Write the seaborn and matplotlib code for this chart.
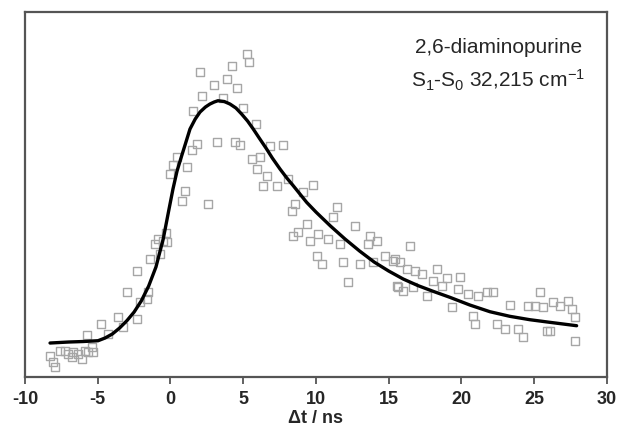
import numpy as np
import pandas as pd
import matplotlib
matplotlib.use("Agg")
import matplotlib.pyplot as plt
import seaborn as sns

# measured points (delay in ns, signal in arbitrary units)
t_data = [-8.28, -8.08, -7.94, -7.59, -7.25, -7.04, -6.77, -6.70, -6.36, -6.08,
          -5.88, -5.67, -5.40, -5.33, -5.74, -4.78, -4.30, -3.61, -3.26, -2.99,
          -2.30, -2.10, -2.30, -1.62, -1.55, -1.41, -1.07, -0.86, -0.72, -0.52,
          -0.31, -0.24, -0.03, 0.17, 0.45, 1.13, 1.00, 0.79,
          1.55, 1.82, 1.48, 2.03, 2.16, 2.58, 2.99, 3.20, 3.61, 3.88,
          4.23, 4.43, 4.57, 4.78, 4.98, 5.26, 5.40, 5.88, 5.60, 6.15,
          5.95, 6.84, 6.63, 6.36, 7.32, 7.73, 8.08, 9.79, 9.11, 8.56,
          8.35, 11.44, 11.17, 9.38, 8.76, 8.42, 10.14, 10.82, 9.59, 12.68,
          13.71, 14.19, 13.57, 11.65, 10.07, 10.41, 11.86, 13.02, 14.74, 15.29,
          13.92, 12.20, 15.57,
          16.46, 15.43, 15.77, 16.25, 16.80, 17.29, 18.32, 19.00, 19.90, 18.04,
          18.66, 15.64, 15.98, 16.67, 17.63, 19.76, 20.45, 21.13, 21.75, 22.17,
          19.35, 20.79, 20.93, 22.44, 22.99, 24.23, 23.33, 24.57, 25.05, 25.60,
          25.40, 26.29, 26.77, 27.32, 27.60, 27.80, 23.88, 25.88, 26.08, 27.80]
s_data = [21, 15, 10, 26, 26, 23, 20, 25, 23, 18,
          26, 25, 30, 25, 42, 53, 43, 60, 50, 85,
          58, 75, 106, 78, 85, 118, 133, 138, 123, 136,
          144, 135, 203, 212, 220, 210, 186, 176,
          266, 233, 227, 305, 281, 173, 292, 235, 279, 298,
          311, 235, 289, 232, 269, 323, 315, 253, 218, 220,
          208, 231, 201, 191, 191, 232, 198, 192, 185, 173,
          166, 170, 160, 153, 145, 141, 143, 138, 136, 151,
          141, 136, 133, 133, 121, 113, 115, 113, 121, 116,
          115, 95, 91,
          131, 118, 115, 108, 106, 103, 108, 99, 100, 96,
          91, 90, 86, 90, 81, 88, 83, 81, 85, 85,
          70, 61, 53, 53, 48, 40, 72, 71, 71, 70,
          85, 75, 71, 76, 68, 60, 48, 46, 46, 36]

# fitted curve
t_fit = [-8.28, -7.0, -6.0, -4.98, -4.5, -4.0, -3.5, -3.0, -2.5, -2.0,
         -1.5, -1.0, -0.5, -0.1, 0.17, 0.45, 0.77, 1.0, 1.34, 1.7,
         2.03, 2.4, 2.71, 3.0, 3.26, 3.7, 4.09, 4.5, 4.89, 5.3,
         5.69, 6.1, 6.61, 7.0, 7.53, 8.0, 8.44, 9.36, 10.0, 11.0,
         12.0, 13.0, 14.0, 15.0, 16.0, 17.0, 18.0, 19.21, 20.58, 21.96,
         23.33, 24.71, 26.08, 27.92]
s_fit = [34, 35, 35.5, 36.3, 39, 43, 49, 56.3, 65, 76.3,
         91, 110, 138, 168, 188, 206, 221.3, 232, 248, 258,
         265, 270, 273, 275, 276.3, 275.5, 273, 269, 263, 256,
         248, 239, 228, 219, 208, 199, 191.3, 174.7, 165, 151,
         138, 126, 115, 106, 98, 91.5, 86, 79.7, 72, 65.3,
         60.7, 57.3, 54.7, 51.3]

x_ticks = [-10, -5, 0, 5, 10, 15, 20, 25, 30]

sns.set_style("ticks")
plt.rcParams['font.family'] = ['Liberation Sans', 'DejaVu Sans']
plt.rcParams['mathtext.fontset'] = 'custom'
plt.rcParams['mathtext.rm'] = 'Liberation Sans'
plt.rcParams['mathtext.it'] = 'Liberation Sans'

fig = plt.figure(figsize=(6.18, 4.35), dpi=100)
ax = fig.add_axes([0.0405, 0.131, 0.9415, 0.839])

df_pts = pd.DataFrame({"t": t_data, "s": s_data})
df_fit = pd.DataFrame({"t": t_fit, "s": s_fit})

sns.scatterplot(data=df_pts, x="t", y="s", ax=ax, marker="s", s=28,
                facecolor="none", edgecolor="#a6a6a6", linewidth=1.0)
sns.lineplot(data=df_fit, x="t", y="s", ax=ax, color="black", linewidth=2.4,
             sort=True)

ax.set_xlim(-10, 30)
ax.set_ylim(0, 365)
ax.set_xticks(x_ticks)
ax.set_xticklabels([str(v) for v in x_ticks], fontsize=13, fontweight="bold")
ax.set_yticks([])
ax.set_ylabel("")
ax.set_xlabel("\u0394t / ns", fontsize=13, fontweight="bold", labelpad=2)
ax.tick_params(axis="x", direction="out", length=5, width=1.3, color="#555555", pad=4)
for sp in ax.spines.values():
    sp.set_visible(True)
    sp.set_linewidth(1.6)
    sp.set_color("#555555")

ax.text(0.957, 0.905, "2,6-diaminopurine", transform=ax.transAxes,
        ha="right", va="center", fontsize=15)
ax.text(0.962, 0.815, r"S$_1$-S$_0$ 32,215 cm$^{-1}$", transform=ax.transAxes,
        ha="right", va="center", fontsize=15)

fig.savefig("out.png", dpi=100)
